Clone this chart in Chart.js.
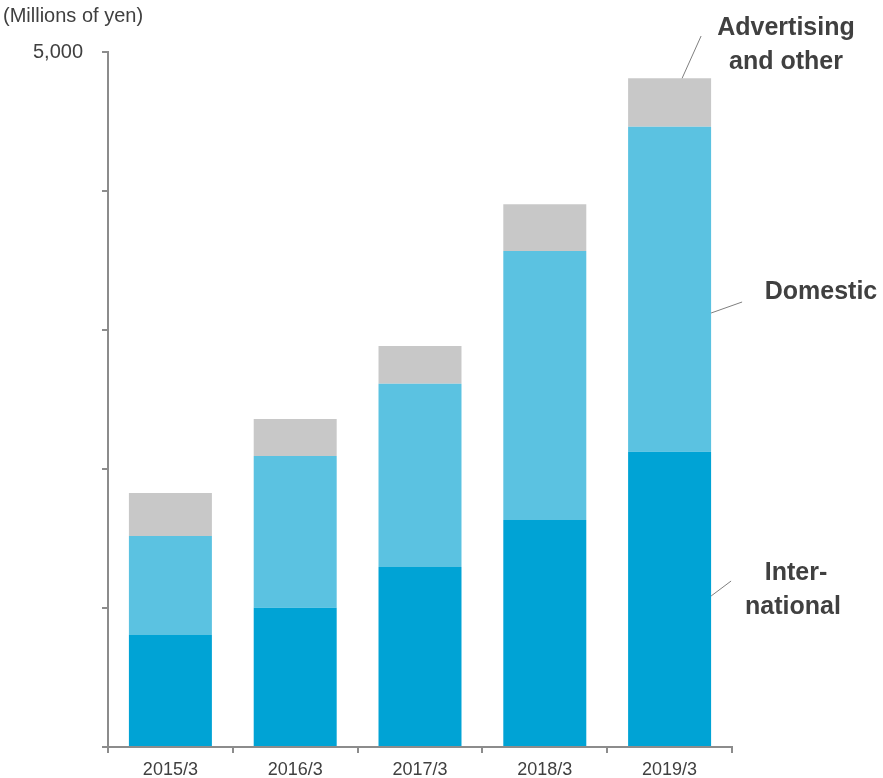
<!DOCTYPE html>
<html>
<head>
<meta charset="utf-8">
<script src="https://cdn.jsdelivr.net/npm/chart.js@4.4.0/dist/chart.umd.min.js"></script>
<style>
  html, body { margin: 0; padding: 0; background: #fff; }
  #wrap { width: 883px; height: 778px; position: relative; }
</style>
</head>
<body>
<div id="wrap"><canvas id="chart"></canvas></div>
<script>
// fiscal years
const categories = ['2015/3', '2016/3', '2017/3', '2018/3', '2019/3'];
// millions of yen
const international = [806, 1002, 1295, 1633, 2124];
const domestic = [712, 1092, 1319, 1935, 2339];
const advertising = [309, 266, 271, 336, 348];
const yTicks = [0, 1000, 2000, 3000, 4000, 5000];
const yLabelled = 5000;

const TEXT = '#404040';
const AXIS = '#8c8c8c';

// labels on the right with leader lines
const annotations = {
  id: 'annotations',
  afterDraw(c) {
    const ctx = c.ctx;
    const y = c.scales.y;
    const bar = c.getDatasetMeta(0).data[4];
    const right = bar.x + bar.width / 2;
    ctx.save();
    // unit label
    ctx.fillStyle = TEXT;
    ctx.font = '20px Arial, "Liberation Sans", sans-serif';
    ctx.textAlign = 'left';
    ctx.textBaseline = 'alphabetic';
    ctx.fillText('(Millions of yen)', 3, 22);

    ctx.strokeStyle = '#7f7f7f';
    ctx.lineWidth = 1;
    ctx.beginPath();
    // advertising
    const advTop = y.getPixelForValue(international[4] + domestic[4] + advertising[4]);
    ctx.moveTo(right - 29, advTop);
    ctx.lineTo(right - 10, 36);
    // domestic
    ctx.moveTo(right, 313);
    ctx.lineTo(right + 31, 302);
    // international
    ctx.moveTo(right, 596);
    ctx.lineTo(right + 20, 581);
    ctx.stroke();

    ctx.font = 'bold 25px Arial, "Liberation Sans", sans-serif';
    ctx.textAlign = 'center';
    ctx.fillText('Advertising', 786, 35);
    ctx.fillText('and other', 786, 69);
    ctx.fillText('Domestic', 821, 299);
    ctx.fillText('Inter-', 796, 580);
    ctx.fillText('national', 793, 614);
    ctx.restore();
  }
};

new Chart(document.getElementById('chart'), {
  type: 'bar',
  data: {
    labels: categories,
    datasets: [
      { label: 'International', data: international, backgroundColor: '#00a3d5' },
      { label: 'Domestic', data: domestic, backgroundColor: '#5bc2e1' },
      { label: 'Advertising and other', data: advertising, backgroundColor: '#c8c8c8' }
    ]
  },
  options: {
    responsive: true,
    maintainAspectRatio: false,
    animation: false,
    layout: { padding: { left: 0, right: 151, top: 52, bottom: 0 } },
    datasets: { bar: { categoryPercentage: 0.665, barPercentage: 1 } },
    plugins: { legend: { display: false }, tooltip: { enabled: false } },
    scales: {
      x: {
        stacked: true,
        afterFit: s => { s.height = 31; },
        border: { color: AXIS, width: 2 },
        grid: { drawOnChartArea: false, tickLength: 6, color: AXIS, lineWidth: 2 },
        ticks: {
          color: TEXT,
          padding: 6,
          font: { family: 'Arial, "Liberation Sans", sans-serif', size: 18 }
        }
      },
      y: {
        stacked: true,
        min: yTicks[0],
        max: yTicks[yTicks.length - 1],
        afterFit: s => { s.width = 108; },
        afterBuildTicks: s => { s.ticks = yTicks.map(v => ({ value: v })); },
        border: { color: AXIS, width: 2 },
        grid: { drawOnChartArea: false, tickLength: 6, color: AXIS, lineWidth: 2 },
        ticks: {
          color: TEXT,
          padding: 19,
          font: { family: 'Arial, "Liberation Sans", sans-serif', size: 20 },
          callback: v => (v === yLabelled ? v.toLocaleString('en-US') : '')
        }
      }
    }
  },
  plugins: [annotations]
});
</script>
</body>
</html>
